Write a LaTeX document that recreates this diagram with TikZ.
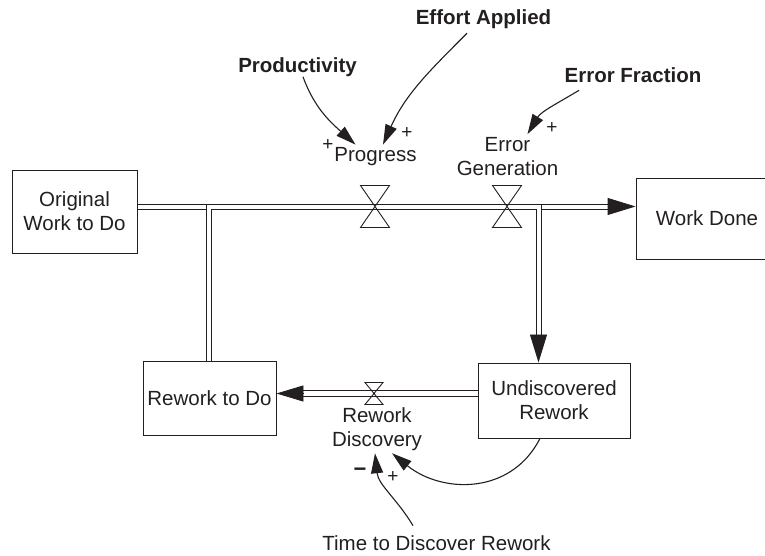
\documentclass[tikz,border=0pt]{standalone}
\usepackage{fontspec}
\setmainfont{Liberation Sans}
\usetikzlibrary{arrows.meta,calc}
\definecolor{ink}{RGB}{35,31,32}
\begin{document}
\begin{tikzpicture}[x=1pt,y=1pt,
  every node/.style={font=\fontsize{20.5}{24}\selectfont, text=ink, inner sep=0pt},
  stock/.style={draw=ink, line width=0.9pt, align=center},
  pipeedge/.style={draw=ink, line width=0.9pt},
  flowtip/.style={ink, line width=0.9pt, -{Triangle[length=28pt,width=17pt]}},
  infl/.style={draw=ink, line width=1.1pt, -{Triangle[length=20pt,width=12pt]}},
  boldlabel/.style={font=\fontsize{20.5}{24}\selectfont\bfseries},
  sign/.style={font=\fontsize{19}{20}\selectfont},
  bigvalve/.pic={\draw[ink, line width=0.9pt, line join=miter] (-14.5,21) -- (14.5,21) -- (-14.5,-21) -- (14.5,-21) -- cycle;},
  smallvalve/.pic={\draw[ink, line width=0.9pt, line join=miter] (-9,11) -- (9,11) -- (-9,-11) -- (9,-11) -- cycle;}
]
\useasboundingbox (0,0) rectangle (765,556);
\clip (0,0) rectangle (765,556);

% stocks
\node[stock, minimum width=125pt, minimum height=83pt] (orig) at (74.5,344.5) {Original\\Work to Do};
\node[stock, minimum width=142pt, minimum height=81pt] (done) at (707,337.5) {Work Done};
\node[stock, minimum width=133pt, minimum height=74pt] (rework) at (209.5,158) {Rework to Do};
\node[stock, minimum width=152pt, minimum height=75pt] (undisc) at (554,155.5) {Undiscovered\\Rework};

% valve and junction positions
\coordinate (vprog) at (375,349.5);
\coordinate (verr) at (507,349.5);
\coordinate (vdisc) at (374,162.5);
\coordinate (jl) at (208.5,349.5);
\coordinate (jr) at (538.5,349.5);

% main pipe (two edges)
\draw[pipeedge] ($(orig.east |- vprog)+(0,2.5)$) -- ($(done.west |- vprog)+(-27,2.5)$);
\draw[pipeedge] ($(orig.east |- vprog)+(0,-2.5)$) -- ($(jl)+(-2.5,-2.5)$);
\draw[pipeedge] ($(jl)+(2.5,-2.5)$) -- ($(jr)+(-2.5,-2.5)$);
\draw[pipeedge] ($(jr)+(2.5,-2.5)$) -- ($(done.west |- vprog)+(-27,-2.5)$);
\draw[flowtip] ($(done.west |- vprog)+(-28,0)$) -- (done.west |- vprog);

% pipe from Rework to Do up to the main pipe
\draw[pipeedge] ($(jl)+(-2.5,2.5)$) -- ($(jl |- rework.north)+(-2.5,0)$);
\draw[pipeedge] ($(jl)+(2.5,-2.5)$) -- ($(jl |- rework.north)+(2.5,0)$);

% pipe down to Undiscovered Rework
\draw[pipeedge] ($(jr)+(-2.5,-2.5)$) -- ($(jr |- undisc.north)+(-2.5,27)$);
\draw[pipeedge] ($(jr)+(2.5,2.5)$) -- ($(jr |- undisc.north)+(2.5,27)$);
\draw[flowtip] ($(jr |- undisc.north)+(0,28)$) -- (jr |- undisc.north);

% rework discovery pipe
\draw[pipeedge] ($(undisc.west |- vdisc)+(0,2.6)$) -- ($(rework.east |- vdisc)+(26,2.6)$);
\draw[pipeedge] ($(undisc.west |- vdisc)+(0,-2.6)$) -- ($(rework.east |- vdisc)+(26,-2.6)$);
\draw[ink, line width=0.9pt, -{Triangle[length=27pt,width=16pt]}] ($(rework.east |- vdisc)+(27,0)$) -- (rework.east |- vdisc);

% valves
\pic at (vprog) {bigvalve};
\pic at (verr) {bigvalve};
\pic at (vdisc) {smallvalve};

% flow labels
\node (progress) at (375.5,399) {Progress};
\node[align=center] (errgen) at (507.5,399.5) {Error\\Generation};
\node[align=center] (rdisc) at (377,127) {Rework\\Discovery};

% auxiliaries
\node[boldlabel] (effort) at (483.5,537) {Effort Applied};
\node[boldlabel] (prod) at (297.5,489) {Productivity};
\node[boldlabel] (errfrac) at (633,481) {Error Fraction};
\node (time) at (436.5,13) {Time to Discover Rework};

% polarity signs
\node[sign] at (328,411) {+};
\node[sign] at (407,423) {+};
\node[sign] at (552,428) {+};
\node[font=\fontsize{22}{24}\selectfont\bfseries] at (360,84) {−};
\node[sign] at (393,79) {+};

% influence arrows
\draw[infl] ([xshift=5.5pt]prod.south) to[out=-70,in=138] ([xshift=-20pt,yshift=3pt]progress.north);
\draw[infl] ([xshift=-16.5pt,yshift=-4.5pt]effort.south) to[out=225,in=66] ([xshift=7.5pt,yshift=3pt]progress.north);
\draw[infl] ([xshift=-54pt,yshift=-7.6pt]errfrac.south) to[out=211,in=59] ([xshift=20pt,yshift=3pt]errgen.north);
\draw[infl] ([xshift=-14pt]undisc.south) to[out=243,in=-39,looseness=1.1] ([xshift=15pt,yshift=-2.5pt]rdisc.south);
\draw[infl] ([xshift=-23.5pt,yshift=9.6pt]time.north) to[out=121,in=-84] ([xshift=-2pt,yshift=-2.5pt]rdisc.south);
\end{tikzpicture}
\end{document}
